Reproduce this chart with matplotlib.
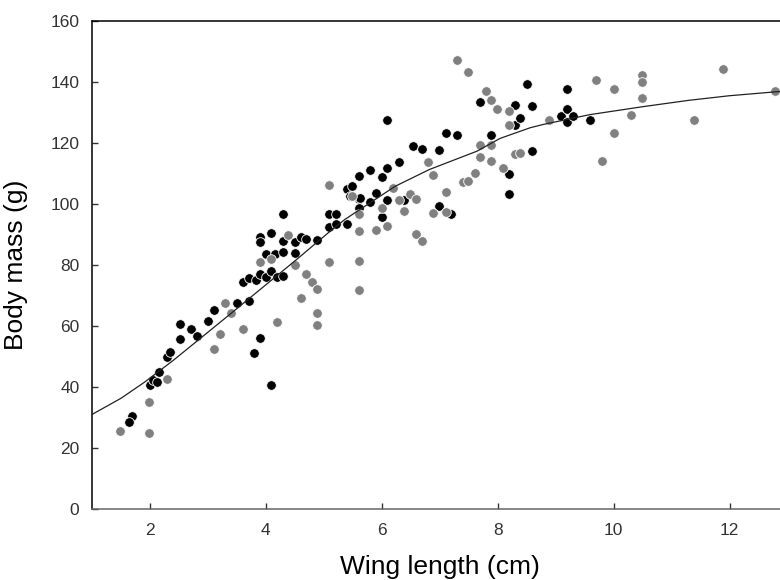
import numpy as np
import matplotlib
matplotlib.use('Agg')
import matplotlib.pyplot as plt

plt.rcParams['font.family'] = ['Liberation Sans', 'DejaVu Sans']

# black points (wing length cm, body mass g)
xb = [1.69, 1.63, 2.0, 2.06, 2.12, 2.16, 2.30, 2.35, 2.51, 2.51, 2.70, 2.81, 3.0, 3.10,
      3.50, 3.60, 3.71, 3.71, 3.80, 3.83, 3.90, 3.90, 3.90, 3.90, 4.0, 4.0, 4.09, 4.09,
      4.09, 4.15, 4.20, 4.29, 4.29, 4.29, 4.29, 4.50, 4.50, 4.60, 4.70, 4.89, 5.09, 5.09,
      5.21, 5.21, 5.40, 5.40, 5.45, 5.49, 5.60, 5.60, 5.60, 5.62, 5.79, 5.79, 5.90, 6.0,
      6.0, 6.09, 6.09, 6.09, 6.29, 6.39, 6.53, 6.70, 6.99, 6.99, 7.10, 7.20, 7.30, 7.69,
      7.89, 8.19, 8.19, 8.30, 8.30, 8.39, 8.50, 8.59, 8.59, 9.09, 9.19, 9.19, 9.19, 9.30,
      9.59]
yb = [30.5, 28.6, 40.8, 42.4, 41.8, 45.0, 49.8, 51.5, 55.7, 60.5, 59.0, 56.6, 61.7, 65.3,
      67.7, 74.4, 75.8, 68.1, 51.1, 75.0, 56.0, 77.2, 89.2, 87.5, 83.5, 76.0, 90.6, 78.0,
      40.5, 83.5, 76.0, 76.5, 96.6, 84.4, 88.0, 83.9, 87.5, 89.1, 88.4, 88.1, 96.6, 92.6,
      96.6, 93.4, 104.9, 93.4, 102.5, 105.9, 101.5, 109.3, 98.8, 102.0, 100.6, 111.0, 103.5, 109.0,
      95.8, 111.8, 101.4, 127.5, 113.9, 101.4, 119.1, 118.0, 117.6, 99.3, 123.3, 96.6, 122.6, 133.3,
      122.6, 103.4, 109.9, 132.4, 125.8, 128.2, 139.2, 132.2, 117.5, 129.0, 137.7, 131.1, 127.0, 129.0,
      127.6]

# grey points
xg = [1.49, 1.99, 1.99, 2.30, 3.10, 3.20, 3.30, 3.40, 3.60, 3.90, 4.09, 4.20, 4.39, 4.50,
      4.60, 4.70, 4.80, 4.89, 4.89, 4.89, 5.09, 5.09, 5.49, 5.60, 5.60, 5.60, 5.60, 5.90,
      6.0, 6.09, 6.20, 6.29, 6.39, 6.49, 6.59, 6.59, 6.70, 6.79, 6.89, 6.89, 7.10, 7.10,
      7.30, 7.40, 7.49, 7.49, 7.60, 7.69, 7.69, 7.79, 7.89, 7.89, 7.89, 7.99, 8.09, 8.19,
      8.19, 8.30, 8.39, 8.89, 9.70, 9.80, 10.0, 10.0, 10.30, 10.49, 10.49, 10.49, 11.39, 11.89,
      12.78]
yg = [25.6, 35.1, 25.0, 42.7, 52.4, 57.3, 67.5, 64.1, 59.0, 81.1, 82.1, 61.4, 89.7, 80.0,
      69.2, 77.0, 74.5, 72.0, 64.2, 60.3, 106.3, 81.1, 102.7, 96.8, 91.0, 81.3, 71.7, 91.5,
      98.8, 92.7, 105.1, 101.4, 97.6, 103.4, 101.5, 90.3, 87.9, 113.9, 109.5, 96.9, 103.9, 97.4,
      147.1, 107.2, 143.2, 107.6, 110.2, 119.5, 115.3, 136.9, 134.1, 119.5, 114.2, 131.1, 111.8, 130.6,
      125.8, 116.3, 116.7, 127.7, 140.7, 114.0, 137.6, 123.3, 129.3, 142.2, 140.1, 134.9, 127.6, 144.3,
      136.9]

# fitted curve
xc = [1.0, 1.5, 1.9, 2.4, 2.86, 3.3, 3.73, 4.53, 5.11, 5.36, 6.23, 6.82, 7.64, 8.04,
      8.56, 8.79, 9.59, 10.5, 11.3, 12.0, 12.81, 13.0]
yc = [31.0, 36.3, 41.5, 48.7, 55.8, 62.6, 69.3, 81.8, 91.1, 94.9, 105.8, 111.3, 117.3, 121.5,
      125.0, 126.1, 129.3, 131.9, 134.0, 135.5, 136.8, 137.0]

fig = plt.figure(figsize=(7.8, 5.8), dpi=100)
ax = fig.add_axes([92/780, 71/580, 695.5/780, 488/580])

ax.scatter(xb, yb, s=48, c='black', edgecolors='white', linewidths=0.6, zorder=2)
ax.scatter(xg, yg, s=48, c='#808080', edgecolors='white', linewidths=0.6, zorder=3)
ax.plot(xc, yc, color='#222222', lw=0.9, zorder=4)

ax.set_xlim(1, 13)
ax.set_ylim(0, 160)
ax.set_xticks([2, 4, 6, 8, 10, 12])
ax.set_yticks(range(0, 161, 20))
ax.tick_params(direction='in', length=4.5, width=1, labelsize=12.5, colors='#333333')
ax.tick_params(axis='x', pad=10)
ax.tick_params(axis='y', pad=9)
ax.spines['bottom'].set_color('#666666')
for s in ['left', 'top', 'right']:
    ax.spines[s].set_color('black')
for s in ax.spines.values():
    s.set_linewidth(1.1)

ax.set_xlabel('Wing length (cm)', fontsize=19, labelpad=12)
ax.set_ylabel('Body mass (g)', fontsize=19, labelpad=16)

fig.savefig('out.png', dpi=100)
